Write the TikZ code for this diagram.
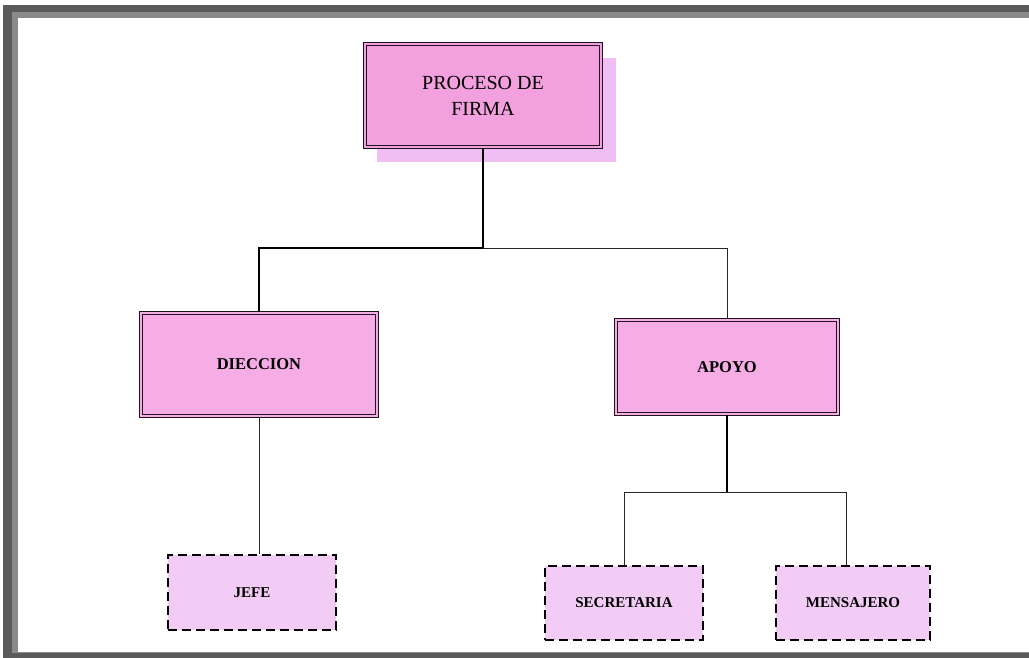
\documentclass[tikz,border=0pt]{standalone}
\usepackage{fontspec}
\setmainfont{Liberation Serif}
\definecolor{framedark}{RGB}{90,90,90}
\definecolor{framelight}{RGB}{138,138,138}
\definecolor{toppink}{RGB}{242,160,222}
\definecolor{shadowpink}{RGB}{240,190,242}
\definecolor{midpink}{RGB}{246,172,228}
\definecolor{leafpink}{RGB}{242,204,244}
\definecolor{edgedark}{RGB}{30,20,30}
\tikzset{
  dblbox/.style={draw=edgedark, line width=1.3pt, double=#1, double distance=1.8pt, fill=#1, inner sep=0pt, align=center},
  leafbox/.style={draw=black, line width=2pt, dash pattern=on 9pt off 5pt, fill=leafpink, inner sep=0pt,
    font=\fontsize{15}{18}\selectfont\bfseries},
  midfont/.style={font=\fontsize{16.5}{20}\selectfont\bfseries},
  thickconn/.style={draw=black, line width=1.8pt},
  thinconn/.style={draw=black!85, line width=1pt}
}
\begin{document}
\begin{tikzpicture}[x=1pt,y=-1pt]
\useasboundingbox (0,0) rectangle (1029,658);
% frame
\fill[framedark] (3,5) rectangle (1029,658);
\fill[framelight] (12,12) rectangle (1029,653);
\fill[white] (18,18) rectangle (1029,652);
% shadow
\fill[shadowpink] (377,58) rectangle (616,162);
% nodes
\node[dblbox=toppink, minimum width=236pt, minimum height=103pt,
      font=\fontsize{20}{26}\selectfont] (proc) at (483,95.5) {PROCESO DE\\FIRMA};
\node[dblbox=midpink, minimum width=236pt, minimum height=103pt, midfont] (dir) at (259,364.5) {DIECCION};
\node[dblbox=midpink, minimum width=222pt, minimum height=94pt, midfont] (apo) at (727,367) {APOYO};
\node[leafbox, minimum width=168pt, minimum height=75pt] (jefe) at (252,592.5) {JEFE};
\node[leafbox, minimum width=158pt, minimum height=74pt] (sec) at (624,603) {SECRETARIA};
\node[leafbox, minimum width=154pt, minimum height=74pt] (mens) at (853,603) {MENSAJERO};
% connectors
\coordinate (j1) at (483,248);
\coordinate (j2) at (727,492);
\draw[thickconn] (proc.south) -- (j1) -| (dir.north);
\draw[thinconn] (j1) -| (apo.north);
\draw[thinconn] (dir.south) -- (dir.south |- jefe.north);
\draw[thickconn] (apo.south) -- (j2);
\draw[thinconn] (j2) -| (sec.north);
\draw[thinconn] (j2) -| ([xshift=-7pt]mens.north);
\end{tikzpicture}
\end{document}
